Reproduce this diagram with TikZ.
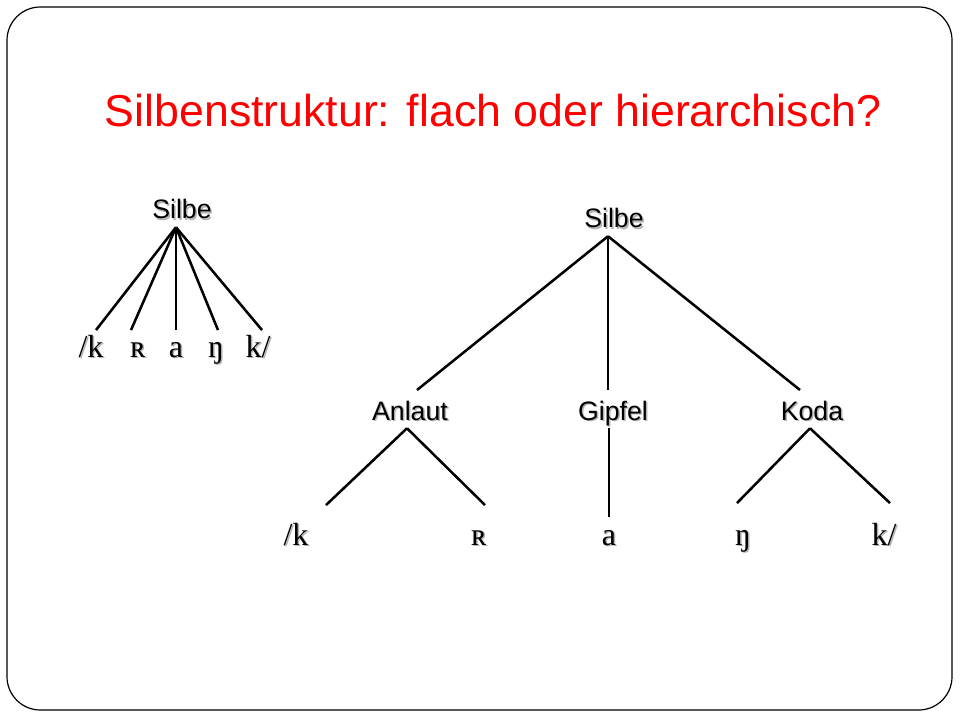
\documentclass[tikz,border=0pt]{standalone}
\usepackage{fontspec}
\setmainfont{Liberation Serif}
\newfontfamily\labelfont{Liberation Sans}
\usetikzlibrary{calc}

% Text mit leichtem Schatten
\newcommand{\schatten}[1]{\makebox[0pt][l]{\raisebox{-1.1pt}{\hspace{1.1pt}\textcolor{black!30}{#1}}}#1}

\tikzset{
  titletext/.style={anchor=base, inner sep=0pt, text=red,
    font=\labelfont\fontsize{33.5}{40}\selectfont},
  constituent/.style={anchor=base, inner xsep=0pt, inner ysep=6pt,
    text height=16.3pt, text depth=0pt,
    font=\labelfont\fontsize{20}{24}\selectfont},
  segment/.style={anchor=base, inner xsep=0pt, inner ysep=2pt,
    text height=18pt, text depth=0pt,
    font=\fontsize{24}{28}\selectfont},
  branch/.style={line width=1.9pt}
}

\begin{document}
\begin{tikzpicture}[x=0.75pt, y=-0.75pt]
  \useasboundingbox (0,0) rectangle (960,720);
  % Rahmen
  \draw[line width=0.9pt, rounded corners=25pt] (7,7) rectangle (952,710);

  % Titel
  \node[titletext] (titel) at (493,127) {Silbenstruktur: flach oder hierarchisch?};

  % flache Struktur
  \node[constituent] (silbeL) at (182,219) {\schatten{Silbe}};
  \node[segment] (l1) at (91,357) {\schatten{/k}};
  \node[segment] (l2) at (138,357) {\schatten{ʀ}};
  \node[segment] (l3) at (176,357) {\schatten{a}};
  \node[segment] (l4) at (216,357) {\schatten{ŋ}};
  \node[segment] (l5) at (258,357) {\schatten{k/}};
  \foreach \leaf/\dx in {l1/5, l2/-7, l3/0, l4/2, l5/4}
    \draw[branch] ([shift={(-6,0)}]silbeL.south) -- ([shift={(\dx,0)}]\leaf.north);

  % hierarchische Struktur
  \node[constituent] (silbeR) at (614,228) {\schatten{Silbe}};
  \node[constituent] (anlaut) at (410,420) {\schatten{Anlaut}};
  \node[constituent] (gipfel) at (613,420) {\schatten{Gipfel}};
  \node[constituent] (koda) at (812,420) {\schatten{Koda}};

  \node[segment] (r1) at (296,545) {\schatten{/k}};
  \node[segment] (r2) at (479,545) {\schatten{ʀ}};
  \node[segment] (r3) at (609,545) {\schatten{a}};
  \node[segment] (r4) at (743,545) {\schatten{ŋ}};
  \node[segment] (r5) at (884,545) {\schatten{k/}};

  \draw[branch] ([shift={(-6,0)}]silbeR.south) -- ([shift={(7,0)}]anlaut.north);
  \draw[branch] ([shift={(-6,0)}]silbeR.south) -- ([shift={(-5,0)}]gipfel.north);
  \draw[branch] ([shift={(-6,0)}]silbeR.south) -- ([shift={(-12,0)}]koda.north);

  \draw[branch] ([shift={(-3,0)}]anlaut.south) -- ([shift={(30,-13)}]r1.north);
  \draw[branch] ([shift={(-3,0)}]anlaut.south) -- ([shift={(6,-13)}]r2.north);
  \draw[branch] ([shift={(-4,0)}]gipfel.south) -- ([shift={(0,-1)}]r3.north);
  \draw[branch] ([shift={(-2,0)}]koda.south) -- ([shift={(-6,-15)}]r4.north);
  \draw[branch] ([shift={(-2,0)}]koda.south) -- ([shift={(6,-15)}]r5.north);
\end{tikzpicture}
\end{document}
